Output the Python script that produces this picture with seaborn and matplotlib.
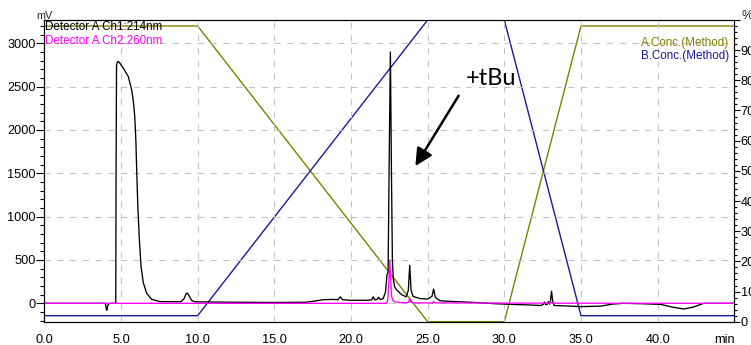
import matplotlib
matplotlib.use("Agg")
import matplotlib.pyplot as plt
from matplotlib.ticker import MultipleLocator
import seaborn as sns

# ---------------- data ----------------
ch1_time = [0.0, 3.98, 4.05, 4.08, 4.13, 4.2, 4.3, 4.66, 4.68, 4.71, 4.76, 4.83, 4.95,
            5.16, 5.48, 5.7, 5.81, 5.9, 5.97, 6.03, 6.1, 6.2, 6.31, 6.46, 6.68, 7.0, 7.55,
            8.9, 9.1, 9.25, 9.33, 9.45, 9.6, 9.8, 12.0, 15.0, 17.0, 17.6, 18.2, 18.8, 19.15,
            19.3, 19.45, 20.0, 21.0, 21.35, 21.45, 21.55, 21.7, 21.8, 21.9, 22.1, 22.25,
            22.35, 22.42, 22.5, 22.57, 22.64, 22.7, 22.76, 22.85, 23.0, 23.3, 23.6, 23.74,
            23.83, 23.92, 24.05, 24.5, 25.0, 25.28, 25.39, 25.5, 25.8, 26.5, 27.5, 28.5,
            29.5, 30.5, 31.5, 32.4, 32.55, 32.62, 32.7, 32.8, 32.88, 32.95, 33.02, 33.08,
            33.15, 33.25, 34.0, 35.0, 36.3, 37.0, 37.7, 38.5, 40.2, 41.0, 41.7, 42.3, 43.0, 45.0]
ch1_mv = [0, 0, -70, -80, -30, -5, 0, 0, 1500, 2740, 2785, 2790, 2765,
          2711, 2615, 2460, 2326, 2153, 1884, 1500, 1115, 730, 422, 234, 115, 46, 20,
          18, 50, 110, 118, 85, 35, 18, 13, 10, 12, 25, 42, 45, 42,
          75, 42, 35, 35, 40, 75, 40, 45, 70, 45, 55, 130,
          330, 360, 1800, 2900, 1500, 500, 280, 190, 150, 100, 75, 150,
          440, 150, 80, 55, 50, 80, 165, 70, 30, 22, 15, 5,
          -5, -12, -18, -25, -10, 15, -15, -10, 20, -10, 40, 140,
          30, -25, -30, -38, -32, -10, 0, -2, -12, -45, -65, -45, 0, 0]

ch2_time = [0.0, 22.3, 22.4, 22.47, 22.53, 22.58, 22.65, 22.75, 22.9, 23.2, 23.7, 23.78,
            23.83, 23.9, 24.1, 25.3, 25.39, 25.5, 32.9, 33.0, 33.1, 45.0]
ch2_mv = [0, 0, 40, 250, 500, 300, 80, 30, 15, 8, 8, 30,
          55, 15, 5, 5, 20, 5, 2, 20, 2, 0]

conc_time = [0, 10, 25, 30, 35, 45]
conc_a = [98, 98, 0, 0, 98, 98]
conc_b = [2, 2, 100, 100, 2, 2]

x_ticks = [0, 5, 10, 15, 20, 25, 30, 35, 40, 45]
x_labels = ["0.0", "5.0", "10.0", "15.0", "20.0", "25.0", "30.0", "35.0", "40.0", "min"]
mv_ticks = [0, 500, 1000, 1500, 2000, 2500, 3000]
pct_ticks = [0, 10, 20, 30, 40, 50, 60, 70, 80, 90, 100]
pct_labels = ["0", "10", "20", "30", "40", "50", "60", "70", "80", "90", ""]

# ---------------- styling ----------------
sns.set_style("white")
plt.rcParams["font.family"] = ["Liberation Sans", "DejaVu Sans"]

OLIVE = "#808000"
NAVY = "#1a1a99"
MAG = "#ff00ff"

fig = plt.figure(figsize=(7.51, 3.45), dpi=100)
ax = fig.add_axes([0.059, 0.0675, 0.9188, 0.8746])
ax2 = ax.twinx()

# concentration (method) lines on the right axis
sns.lineplot(x=conc_time, y=conc_a, ax=ax2, color=OLIVE, lw=1.0, estimator=None, sort=False)
sns.lineplot(x=conc_time, y=conc_b, ax=ax2, color=NAVY, lw=1.0, estimator=None, sort=False)

# chromatograms on the left axis (drawn above)
ax.set_zorder(ax2.get_zorder() + 1)
ax.patch.set_visible(False)
sns.lineplot(x=ch1_time, y=ch1_mv, ax=ax, color="black", lw=0.95, estimator=None, sort=False)
sns.lineplot(x=ch2_time, y=ch2_mv, ax=ax, color=MAG, lw=0.95, estimator=None, sort=False)

ax.set_xlim(0, 45)
ax.set_ylim(-212, 3269)
ax2.set_ylim(0, 100)

ax.set_xticks(x_ticks)
ax.set_xticklabels(x_labels)
ax.get_xticklabels()[-1].set_ha("right")
ax.xaxis.set_minor_locator(MultipleLocator(1))
ax.set_yticks(mv_ticks)
ax.yaxis.set_minor_locator(MultipleLocator(100))
ax2.set_yticks(pct_ticks)
ax2.set_yticklabels(pct_labels)
ax2.yaxis.set_minor_locator(MultipleLocator(2))

ax.tick_params(axis="x", which="major", direction="out", length=5.8, width=0.8,
               pad=3.3, labelsize=9.2, colors="black")
ax.tick_params(axis="x", which="minor", direction="out", length=3.3, width=0.8, colors="black")
ax.tick_params(axis="y", which="major", direction="out", length=5.5, width=0.8,
               pad=0.5, labelsize=9.2, colors="black")
ax.tick_params(axis="y", which="minor", direction="out", length=3.0, width=0.8, colors="black")
ax2.tick_params(axis="y", which="major", direction="out", length=4.0, width=0.8,
                pad=0.6, labelsize=9.2, colors="black")
ax2.tick_params(axis="y", which="minor", direction="out", length=2.4, width=0.8, colors="black")

for a in (ax, ax2):
    for s in a.spines.values():
        s.set_visible(True)
        s.set_color("black")
        s.set_linewidth(0.8)

ax.grid(True, which="major", color="#c4c4c4", linestyle=(0, (5.5, 6)), linewidth=0.8)
ax.set_axisbelow(True)
ax.set_xlabel("")
ax.set_ylabel("")
ax2.set_ylabel("")

# unit labels
ax.text(0.0, 1.004, "mV", transform=ax.transAxes, ha="center", va="baseline", fontsize=7.8)
ax2.text(1.011, 1.004, "%", transform=ax2.transAxes, ha="left", va="baseline", fontsize=9.2)

# legends as text
ax.text(0.001, 0.976, "Detector A Ch1:214nm", transform=ax.transAxes, ha="left",
        va="center", fontsize=8.4, color="black")
ax.text(0.001, 0.931, "Detector A Ch2:260nm", transform=ax.transAxes, ha="left",
        va="center", fontsize=8.4, color=MAG)
ax.text(0.9928, 0.925, "A.Conc.(Method)", transform=ax.transAxes, ha="right",
        va="center", fontsize=8.4, color=OLIVE)
ax.text(0.9928, 0.881, "B.Conc.(Method)", transform=ax.transAxes, ha="right",
        va="center", fontsize=8.4, color=NAVY)

# annotation
ax.annotate("", xy=(24.2, 1584), xytext=(27.02, 2395),
            arrowprops=dict(arrowstyle="-|>", color="black", lw=1.8,
                            mutation_scale=26, shrinkA=0, shrinkB=0))
ax.text(29.11, 2519, "+tBu", ha="center", va="baseline", fontsize=17,
        family=["Lato", "DejaVu Sans"], color="black")

fig.savefig("out.png", dpi=100)
